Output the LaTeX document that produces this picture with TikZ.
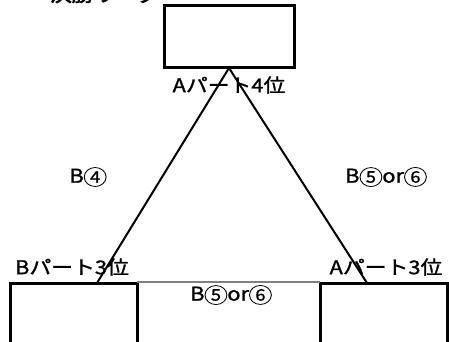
\documentclass[tikz,border=0pt]{standalone}
\usepackage{fontspec}
\usepackage{graphicx}
\newfontfamily\jpfont[FakeBold=1.1]{Noto Sans CJK JP}
\newfontfamily\titlefont[FakeBold=3]{Noto Sans CJK JP}
\newcommand{\wide}[1]{\scalebox{1.15}[1]{#1}}
\newcommand{\circnum}[1]{\tikz[baseline=(cn.base)]\node[circle, draw, line width=0.8pt, inner sep=0pt, minimum size=19pt, font=\jpfont\fontsize{16}{16}\selectfont] (cn) {#1};}
\usetikzlibrary{positioning}

\begin{document}
\begin{tikzpicture}[x=1pt, y=-1pt,
    box/.style={draw=black, line width=3pt},
    lbl/.style={font=\jpfont\fontsize{19}{19}\selectfont, inner sep=0pt}]
    \definecolor{midColour}{HTML}{7F7F7F}

    \useasboundingbox (0,0) rectangle (449,342);
    \clip (0,0) rectangle (449,342);

    % Title, cut off at the top edge
    \node[lbl, font=\titlefont\fontsize{19}{19}\selectfont, anchor=base west] (title) at (28,1.5) {\wide{・決勝リーグ}};

    % Draw the top box
    \draw[box] (164,6) rectangle (294,68);
    \coordinate (apex) at (229,68);

    % Draw the bottom boxes (cut off at the bottom edge)
    \draw[box] (10,283) rectangle (137,360);
    \draw[box] (320,283) rectangle (447,360);
    \draw[midColour, line width=1.4pt] (137,282) -- (320,282);
    \coordinate (left) at (97,283);
    \coordinate (right) at (367,283);

    % Draw the triangle
    \draw[line width=2pt] (left) -- (apex) -- (right);

    % Labels
    \node[lbl] (top)   at (229,85)  {\wide{Aパート4位}};
    \node[lbl] (bl)    at (72,267)  {\wide{Bパート3位}};
    \node[lbl] (br)    at (386,267) {\wide{Aパート3位}};
    \node[lbl] (mid)   at (231,295) {\wide{B\circnum{5}or\circnum{6}}};
    \node[lbl] (sideL) at (88,177)  {\wide{B\circnum{4}}};
    \node[lbl] (sideR) at (386,177) {\wide{B\circnum{5}or\circnum{6}}};

\end{tikzpicture}
\end{document}
